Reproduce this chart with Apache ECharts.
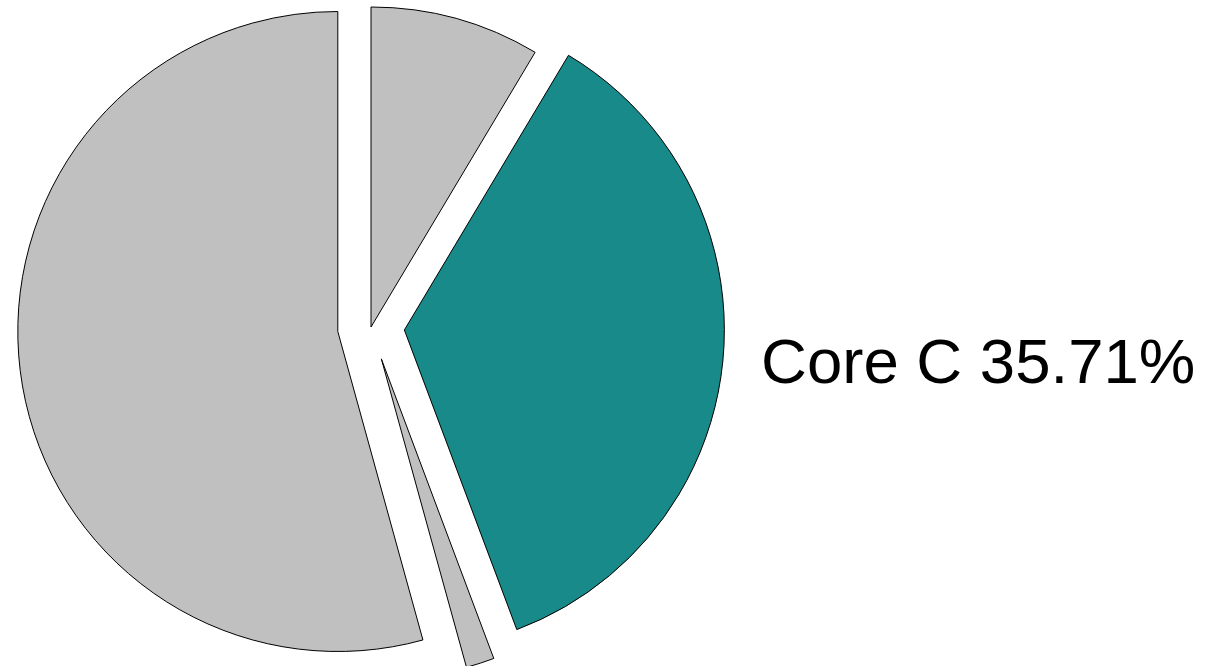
<!DOCTYPE html>
<html>
<head>
<meta charset="utf-8">
<script src="https://cdn.jsdelivr.net/npm/echarts@6/dist/echarts.min.js"></script>
<style>
html,body{margin:0;padding:0;background:#fff;}
#chart{width:1206px;height:666px;}
</style>
</head>
<body>
<div id="chart"></div>
<script>
const categories = ['Core B', 'Core C', 'Core D', 'Core A'];
const values = [6, 25, 1, 38];
const selectedFlags = [false, true, true, true];
const labelShown = [false, true, false, false];
const sliceColors = ['#c0c0c0', '#188a89', '#c0c0c0', '#c0c0c0'];

const chart = echarts.init(document.getElementById('chart'), null, {renderer: 'canvas'});
const data = categories.map((name, i) => ({
  name: name,
  value: values[i],
  selected: selectedFlags[i],
  itemStyle: {color: sliceColors[i]},
  label: {show: labelShown[i]},
  labelLine: {show: false}
}));
chart.setOption({
  animation: false,
  backgroundColor: '#ffffff',
  series: [{
    type: 'pie',
    center: [371, 327],
    radius: [0, 320],
    startAngle: 90,
    clockwise: true,
    selectedMode: 'multiple',
    selectedOffset: 33.5,
    avoidLabelOverlap: false,
    itemStyle: {borderColor: '#000000', borderWidth: 1},
    select: {itemStyle: {borderColor: '#000000', borderWidth: 1}},
    emphasis: {disabled: true},
    label: {
      position: 'outside',
      formatter: '{t|{b} {d}%}',
      color: '#000000',
      distanceToLabelLine: 5,
      rich: {
        t: {
          fontFamily: 'Liberation Sans, Arial, sans-serif',
          fontSize: 63.5,
          color: '#000000',
          padding: [14, 0, 0, 0]
        }
      }
    },
    labelLine: {show: false, length: 0, length2: 33},
    data: data
  }]
});
</script>
</body>
</html>
